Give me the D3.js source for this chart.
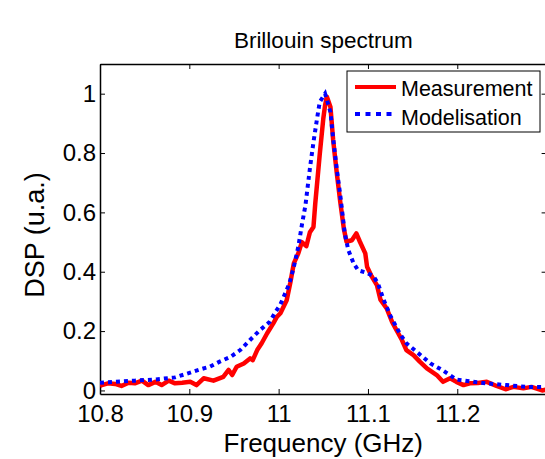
<!DOCTYPE html>
<html>
<head>
<meta charset="utf-8">
<script src="https://cdn.jsdelivr.net/npm/d3@7"></script>
<style>
  body { margin: 0; background: #fff; }
  text { font-family: "Liberation Sans", Arial, Helvetica, sans-serif; fill: #000; }
</style>
</head>
<body>
<div id="graph"></div>
<script>
// data
const freqMeas = [10.800,10.802,10.809,10.817,10.824,10.832,10.839,10.847,10.854,10.862,
  10.869,10.877,10.884,10.892,10.901,10.908,10.916,10.927,10.938,10.944,
  10.948,10.953,10.961,10.968,10.971,10.976,10.981,10.987,10.994,10.998,
  11.002,11.009,11.013,11.017,11.022,11.026,11.031,11.035,11.039,11.041,
  11.046,11.050,11.052,11.054,11.058,11.061,11.065,11.069,11.073,11.076,
  11.082,11.087,11.091,11.097,11.099,11.104,11.110,11.114,11.121,11.127,
  11.132,11.138,11.143,11.151,11.158,11.166,11.177,11.184,11.192,11.199,
  11.207,11.214,11.223,11.233,11.244,11.254,11.263,11.274,11.283,11.295,11.300];
const dspMeas = [0.015,0.018,0.024,0.022,0.015,0.026,0.024,0.033,0.018,0.029,
  0.018,0.033,0.024,0.026,0.029,0.018,0.041,0.033,0.046,0.069,
  0.052,0.080,0.091,0.108,0.102,0.136,0.159,0.192,0.226,0.248,
  0.260,0.304,0.362,0.428,0.462,0.500,0.486,0.533,0.551,0.630,
  0.795,0.916,0.961,0.990,0.955,0.845,0.735,0.635,0.545,0.501,
  0.506,0.529,0.501,0.462,0.417,0.385,0.355,0.306,0.276,0.231,
  0.203,0.170,0.136,0.119,0.097,0.074,0.052,0.029,0.041,0.029,
  0.018,0.024,0.025,0.029,0.015,0.004,0.012,0.007,0.012,0.000,0.003];

const freqModel = [10.800,10.817,10.839,10.862,10.884,10.901,10.912,10.923,10.934,10.946,
  10.957,10.968,10.979,10.990,10.996,11.002,11.007,11.012,11.017,11.022,
  11.026,11.030,11.035,11.039,11.043,11.046,11.052,11.058,11.061,11.065,
  11.069,11.071,11.074,11.078,11.084,11.089,11.099,11.106,11.111,11.117,
  11.125,11.136,11.143,11.155,11.170,11.183,11.199,11.218,11.233,11.255,11.278,11.300];
const dspModel = [0.026,0.029,0.033,0.037,0.044,0.060,0.071,0.080,0.097,0.113,
  0.136,0.170,0.203,0.231,0.262,0.290,0.325,0.360,0.416,0.484,
  0.557,0.624,0.748,0.837,0.916,0.972,1.000,0.938,0.849,0.748,
  0.658,0.607,0.529,0.473,0.428,0.405,0.396,0.385,0.362,0.310,
  0.252,0.190,0.159,0.129,0.091,0.069,0.037,0.029,0.024,0.018,0.012,0.011];

const xTicks = [10.8, 10.9, 11, 11.1, 11.2];
const yTicks = [0, 0.2, 0.4, 0.6, 0.8, 1];
const seriesNames = ["Measurement", "Modelisation"];

// set the dimensions and margins of the graph
const W = 545, H = 459;
const margin = {top: 64, left: 100},
    width = 446.6,
    height = 330;

const svg = d3.select("#graph")
  .append("svg")
    .attr("width", W)
    .attr("height", H);

const g = svg.append("g")
    .attr("transform", `translate(${margin.left},${margin.top})`);

const x = d3.scaleLinear().domain([10.8, 11.3]).range([0, width]);
const y = d3.scaleLinear().domain([-0.012, 1.1]).range([height, 0]);

g.append("clipPath").attr("id", "clip")
  .append("rect").attr("width", width).attr("height", height);

// axes, ticks pointing inward
const xAxis = g.append("g")
    .attr("transform", `translate(0,${height})`)
    .call(d3.axisBottom(x).tickValues(xTicks).tickSize(-5).tickSizeOuter(0).tickPadding(11)
      .tickFormat(d => d3.format("~g")(d)));
const xTop = g.append("g")
    .call(d3.axisTop(x).tickValues(xTicks).tickSize(-5).tickSizeOuter(0).tickFormat(""));
const yAxis = g.append("g")
    .call(d3.axisLeft(y).tickValues(yTicks).tickSize(-5).tickSizeOuter(0).tickPadding(4)
      .tickFormat(d => d3.format("~g")(d)));
const yRight = g.append("g")
    .attr("transform", `translate(${width},0)`)
    .call(d3.axisRight(y).tickValues(yTicks).tickSize(-5).tickSizeOuter(0).tickFormat(""));

g.selectAll(".domain").attr("stroke", "#000").attr("stroke-width", 1.5);
g.selectAll(".tick line").attr("stroke", "#000").attr("stroke-width", 1);
g.selectAll(".tick text")
  .style("font-family", '"Liberation Sans", Arial, sans-serif')
  .style("font-size", "24px").attr("fill", "#000");

// curves
const meas = freqMeas.map((f, i) => [f, dspMeas[i]]);
const model = freqModel.map((f, i) => [f, dspModel[i]]);
const line = d3.line().x(d => x(d[0])).y(d => y(d[1]));

const plot = g.append("g").attr("clip-path", "url(#clip)");
plot.append("path").datum(meas)
  .attr("d", line)
  .attr("fill", "none").attr("stroke", "#ff0000")
  .attr("stroke-width", 4.5).attr("stroke-linejoin", "round");
plot.append("path").datum(model)
  .attr("d", line)
  .attr("fill", "none").attr("stroke", "#0000ff")
  .attr("stroke-width", 4).attr("stroke-dasharray", "4,4");

// title and labels
svg.append("text")
  .attr("x", margin.left + width / 2).attr("y", 48)
  .attr("text-anchor", "middle").style("font-size", "22.5px")
  .text("Brillouin spectrum");
svg.append("text")
  .attr("x", margin.left + width / 2).attr("y", 452)
  .attr("text-anchor", "middle").style("font-size", "26px")
  .text("Frequency (GHz)");
svg.append("text")
  .attr("transform", "translate(44,235) rotate(-90)")
  .attr("text-anchor", "middle").style("font-size", "27px")
  .text("DSP (u.a.)");

// legend
const leg = svg.append("g");
leg.append("rect")
  .attr("x", 347).attr("y", 71).attr("width", 193).attr("height", 61)
  .attr("fill", "#fff").attr("stroke", "#000").attr("stroke-width", 1);
const legStyles = [
  {color: "#ff0000", dash: null, ly: 87, ty: 96},
  {color: "#0000ff", dash: "5,5.5", ly: 114, ty: 125}
];
seriesNames.forEach((name, i) => {
  const s = legStyles[i];
  leg.append("line")
    .attr("x1", 355).attr("x2", 396).attr("y1", s.ly).attr("y2", s.ly)
    .attr("stroke", s.color).attr("stroke-width", 4)
    .attr("stroke-dasharray", s.dash);
  leg.append("text")
    .attr("x", 401).attr("y", s.ty)
    .style("font-size", "21.5px")
    .text(name);
});
</script>
</body>
</html>
